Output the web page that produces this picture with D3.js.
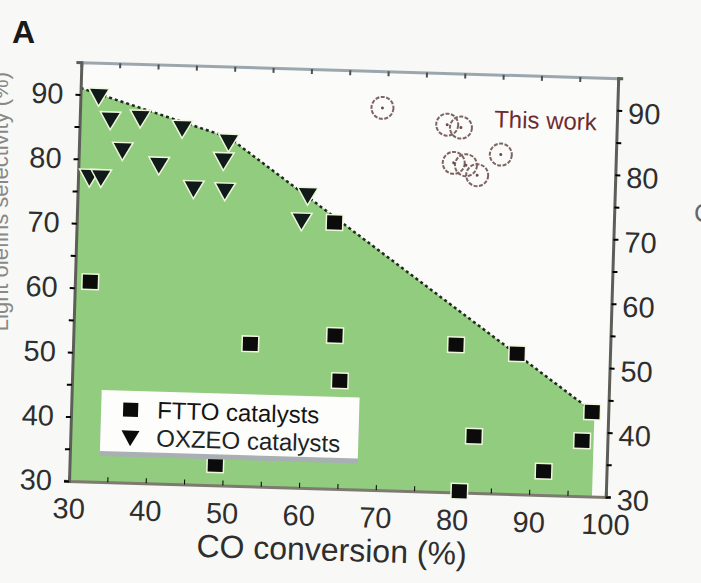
<!DOCTYPE html>
<html>
<head>
<meta charset="utf-8">
<script src="https://cdn.jsdelivr.net/npm/d3@7"></script>
<style>
  body { margin: 0; background: #f8f8f6; }
  svg { display: block; font-family: "Liberation Sans", Arial, sans-serif; }
  .tick text { fill: #2e2e2e; }
</style>
</head>
<body>
<script>
// tick values
const convTicks = [30, 40, 50, 60, 70, 80, 90, 100];
const selTicks = [30, 40, 50, 60, 70, 80, 90];

// FTTO catalysts (squares)
const fttoConv = [32.0, 63.6, 53.1, 64.1, 64.9, 49.0, 79.9, 87.9, 97.9, 82.6, 96.7, 91.8, 80.9];
const fttoSel  = [61.0, 71.3, 52.1, 53.8, 46.8, 33.2, 52.9, 51.8, 43.1, 38.8, 38.6, 33.7, 30.2];

// OXZEO catalysts (triangles)
const oxzeoConv = [32.4, 34.0, 37.9, 43.4, 49.5, 48.9, 35.7, 40.5, 31.5, 33.0, 45.1, 49.2, 60.0, 59.3];
const oxzeoSel  = [90.1, 86.5, 86.9, 85.5, 83.6, 80.7, 81.8, 79.7, 77.5, 77.5, 76.2, 76.0, 75.7, 71.7];

// This work (open circles)
const workConv = [69.4, 77.9, 79.7, 78.9, 80.5, 82.0, 85.0];
const workSel  = [89.3, 87.0, 86.6, 81.1, 80.8, 79.3, 82.6];

// limit of previous catalysts
const limitConv = [30, 49.5, 98.2, 98.2, 30];
const limitSel  = [91, 84, 43, 30, 30];

const W = 701, H = 583;
const plotW = 537, plotH = 419;

const svg = d3.select("body").append("svg")
    .attr("width", W)
    .attr("height", H);

// the photo is slightly tilted
const g = svg.append("g")
    .attr("transform", "translate(69,481) rotate(1.7) translate(0," + (-plotH) + ")");

const x = d3.scaleLinear().domain([30, 100]).range([0, plotW]);
const y = d3.scaleLinear().domain([30, 95]).range([plotH, 0]);

g.append("rect")
    .attr("width", plotW)
    .attr("height", plotH)
    .attr("fill", "#fbfbfa");

// green region
const region = limitConv.map((c, i) => [x(c), y(limitSel[i])]);
g.append("path")
    .attr("d", d3.line()(region) + "Z")
    .attr("fill", "#92cc7e");

g.append("path")
    .attr("d", d3.line()(region.slice(0, 3)))
    .attr("fill", "none")
    .attr("stroke", "#1f2a1c")
    .attr("stroke-width", 2.5)
    .attr("stroke-dasharray", "3,3");

// axes
const minor = d3.range(30, 101, 5);
const minorY = d3.range(30, 95, 5);

g.append("g")
    .attr("transform", "translate(0," + plotH + ")")
    .call(d3.axisBottom(x).tickValues(minor).tickSize(-5).tickFormat(""))
    .call(a => a.select(".domain").attr("stroke", "#7d7a70").attr("stroke-width", 3));

g.append("g")
    .attr("transform", "translate(0," + plotH + ")")
    .call(d3.axisBottom(x).tickValues(convTicks).tickSize(0).tickPadding(17))
    .call(a => a.select(".domain").remove())
    .call(a => a.selectAll("text").attr("font-size", 29).attr("font-family", "Liberation Sans, Arial"));

g.append("g")
    .call(d3.axisTop(x).tickValues(minor).tickSize(-5).tickFormat(""))
    .call(a => a.select(".domain").attr("stroke", "#9ba7ad").attr("stroke-width", 3))
    .call(a => a.selectAll(".tick line").attr("stroke", "#4a5055").attr("stroke-width", 2));

g.append("g")
    .call(d3.axisLeft(y).tickValues(minorY).tickSize(5).tickFormat(""))
    .call(a => a.select(".domain").attr("stroke", "#5e5e58").attr("stroke-width", 3))
    .call(a => a.selectAll(".tick line").attr("stroke-width", 2));

g.append("g")
    .call(d3.axisLeft(y).tickValues(selTicks).tickSize(0).tickPadding(17))
    .call(a => a.select(".domain").remove())
    .call(a => a.selectAll("text").attr("font-size", 29).attr("font-family", "Liberation Sans, Arial"));

g.append("g")
    .attr("transform", "translate(" + plotW + ",0)")
    .call(d3.axisRight(y).tickValues(minorY).tickSize(5).tickFormat(""))
    .call(a => a.select(".domain").attr("stroke", "#5e5e58").attr("stroke-width", 3))
    .call(a => a.selectAll(".tick line").attr("stroke-width", 2));

g.append("g")
    .attr("transform", "translate(" + plotW + ",3)")
    .call(d3.axisRight(y).tickValues(selTicks).tickSize(0).tickPadding(11))
    .call(a => a.select(".domain").remove())
    .call(a => a.selectAll("text").attr("font-size", 29).attr("font-family", "Liberation Sans, Arial"));

// markers
const tri = d3.symbol().type(d3.symbolTriangle).size(140);

g.selectAll(".ox")
    .data(oxzeoConv)
    .enter().append("path")
    .attr("class", "ox")
    .attr("d", tri)
    .attr("transform", (d, i) => "translate(" + x(d) + "," + y(oxzeoSel[i]) + ") rotate(180)")
    .attr("fill", "#101a18")
    .attr("stroke", "#eef7dc")
    .attr("stroke-width", 3)
    .attr("paint-order", "stroke");

g.selectAll(".ft")
    .data(fttoConv)
    .enter().append("rect")
    .attr("class", "ft")
    .attr("x", d => x(d) - 7.5)
    .attr("y", (d, i) => y(fttoSel[i]) - 7)
    .attr("width", 15)
    .attr("height", 14)
    .attr("fill", "#0b0b0b")
    .attr("stroke", "#eef7dc")
    .attr("stroke-width", 3)
    .attr("paint-order", "stroke");

g.selectAll(".tw")
    .data(workConv)
    .enter().append("circle")
    .attr("class", "tw")
    .attr("cx", d => x(d))
    .attr("cy", (d, i) => y(workSel[i]))
    .attr("r", 11)
    .attr("fill", "none")
    .attr("stroke", "#7d6460")
    .attr("stroke-width", 2)
    .attr("stroke-dasharray", "4,1.5");

g.selectAll(".twc")
    .data(workConv)
    .enter().append("circle")
    .attr("class", "twc")
    .attr("cx", d => x(d))
    .attr("cy", (d, i) => y(workSel[i]))
    .attr("r", 1.5)
    .attr("fill", "#6b4a4a");

g.append("text")
    .attr("x", x(84))
    .attr("y", y(86.8))
    .attr("font-size", 24)
    .attr("fill", "#6e2c30")
    .text("This work");

// legend
const legend = g.append("g")
    .attr("transform", "translate(30," + (plotH - 92) + ")");

legend.append("rect")
    .attr("y", 4)
    .attr("width", 258)
    .attr("height", 62)
    .attr("fill", "#a8b0b4");

legend.append("rect")
    .attr("width", 258)
    .attr("height", 61)
    .attr("fill", "#fdfdfb");

legend.append("rect")
    .attr("x", 22)
    .attr("y", 12)
    .attr("width", 15)
    .attr("height", 14)
    .attr("fill", "#0b0b0b");

legend.append("path")
    .attr("d", tri)
    .attr("transform", "translate(30,45) rotate(180)")
    .attr("fill", "#0b0b0b");

legend.append("text")
    .attr("x", 56)
    .attr("y", 27)
    .attr("font-size", 24)
    .attr("fill", "#141414")
    .text("FTTO catalysts");

legend.append("text")
    .attr("x", 56)
    .attr("y", 55)
    .attr("font-size", 24)
    .attr("fill", "#1c2424")
    .text("OXZEO catalysts");

g.append("text")
    .attr("x", plotW / 2 - 4)
    .attr("y", plotH + 72)
    .attr("text-anchor", "middle")
    .attr("font-size", 32)
    .attr("fill", "#2e2e2e")
    .text("CO conversion (%)");

// panel letter and cut-off side labels
svg.append("text")
    .attr("x", 12)
    .attr("y", 43)
    .attr("font-size", 32)
    .attr("font-weight", "bold")
    .attr("fill", "#1a1a1a")
    .text("A");

svg.append("text")
    .attr("transform", "translate(8,72) rotate(-90)")
    .attr("text-anchor", "end")
    .attr("font-size", 22)
    .attr("fill", "#888")
    .text("Light olefins selectivity (%)");

svg.append("text")
    .attr("x", 694)
    .attr("y", 222)
    .attr("font-size", 26)
    .attr("fill", "#666")
    .text("CO");
</script>
</body>
</html>
